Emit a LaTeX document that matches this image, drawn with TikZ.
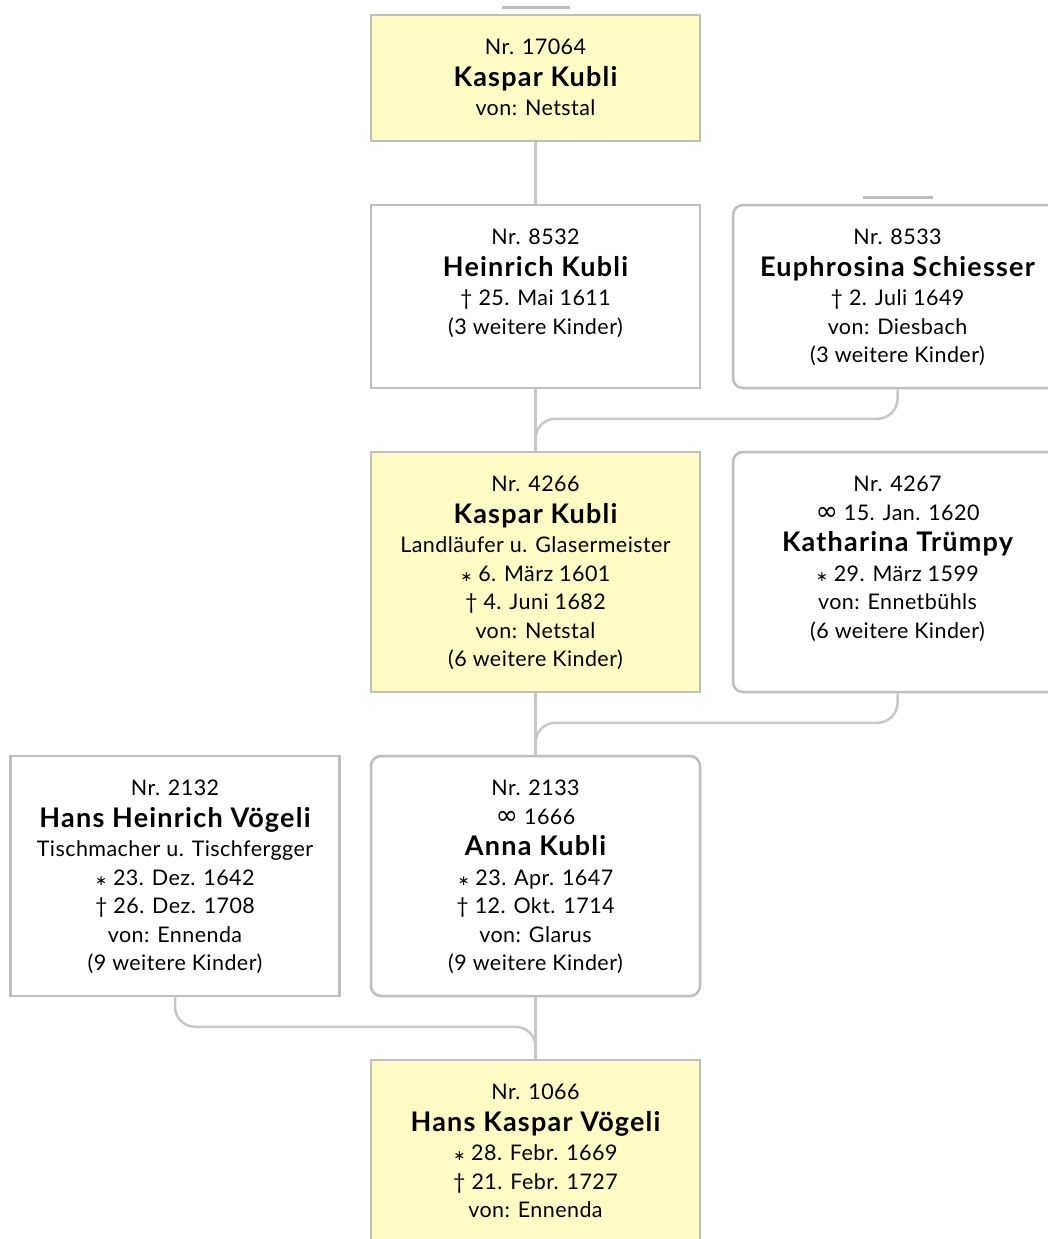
\documentclass[tikz,border=0pt]{standalone}
\usepackage{fontspec}
\setmainfont{Lato}[LetterSpace=2]
\newfontfamily\namefont{Lato}[LetterSpace=4.5]
\newfontfamily\symfont{DejaVu Sans}
\usetikzlibrary{calc}

\definecolor{boxyellow}{RGB}{255,251,196}
\definecolor{boxline}{RGB}{190,190,190}
\definecolor{linkline}{RGB}{200,200,200}

% genealogical signs and the name line
\newcommand{\born}{{\symfont\fontsize{14}{14}\selectfont ∗}}
\newcommand{\died}{†}
\newcommand{\married}{{\symfont\fontsize{27}{20}\selectfont ∞}}
\newcommand{\pname}[1]{{\namefont\fontsize{27}{28}\selectfont\bfseries #1}}

\tikzset{
  x=1pt, y=-1pt,
  man/.style={draw=boxline, line width=2.5pt, fill=white, inner sep=0pt,
              minimum width=329pt},
  woman/.style={man, rounded corners=10pt},
  proband/.style={man, fill=boxyellow},
  info/.style={anchor=north, align=center, inner sep=0pt,
               font=\fontsize{21.5}{28.5}\selectfont},
  conn/.style={draw=linkline, line width=2.5pt, rounded corners=20pt},
  stub/.style={draw=boxline, line width=3pt},
}

\begin{document}
\begin{tikzpicture}
\useasboundingbox (0,0) rectangle (1048,1239);
\clip (0,0) rectangle (1048,1239);

% ---- boxes ----
\node[proband, minimum height=126pt] (b17064) at (535.5,78) {};
\node[man,     minimum height=183pt] (b8532)  at (535.5,296.5) {};
\node[woman,   minimum height=183pt] (b8533)  at (897.5,296.5) {};
\node[proband, minimum height=240pt] (b4266)  at (535.5,572) {};
\node[woman,   minimum height=240pt] (b4267)  at (897.5,572) {};
\node[man,     minimum height=240pt] (b2132)  at (175,876) {};
\node[woman,   minimum height=240pt] (b2133)  at (535.5,876) {};
\node[proband, minimum height=240pt] (b1066)  at (535.5,1180) {};

% ---- texts ----
\node[info] (t17064) at ($(b17064.north)+(0,25)$)
  {Nr. 17064\\[3pt] \pname{Kaspar Kubli}\\[1pt] von: Netstal};
\node[info] (t8532) at ($(b8532.north)+(0,25)$)
  {Nr. 8532\\[3pt] \pname{Heinrich Kubli}\\[1pt] \died\ 25. Mai 1611\\ (3 weitere Kinder)};
\node[info] (t8533) at ($(b8533.north)+(0,25)$)
  {Nr. 8533\\[3pt] \pname{Euphrosina Schiesser}\\[1pt] \died\ 2. Juli 1649\\ von: Diesbach\\ (3 weitere Kinder)};
\node[info] (t4266) at ($(b4266.north)+(0,25)$)
  {Nr. 4266\\[3pt] \pname{Kaspar Kubli}\\[1pt] Landläufer u. Glasermeister\\ \born\ 6. März 1601\\ \died\ 4. Juni 1682\\ von: Netstal\\ (6 weitere Kinder)};
\node[info] (t4267) at ($(b4267.north)+(0,25)$)
  {Nr. 4267\\ \married\ 15. Jan. 1620\\[3pt] \pname{Katharina Trümpy}\\[1pt] \born\ 29. März 1599\\ von: Ennetbühls\\ (6 weitere Kinder)};
\node[info] (t2132) at ($(b2132.north)+(0,25)$)
  {Nr. 2132\\[3pt] \pname{Hans Heinrich Vögeli}\\[1pt] Tischmacher u. Tischfergger\\ \born\ 23. Dez. 1642\\ \died\ 26. Dez. 1708\\ von: Ennenda\\ (9 weitere Kinder)};
\node[info] (t2133) at ($(b2133.north)+(0,25)$)
  {Nr. 2133\\ \married\ 1666\\[3pt] \pname{Anna Kubli}\\[1pt] \born\ 23. Apr. 1647\\ \died\ 12. Okt. 1714\\ von: Glarus\\ (9 weitere Kinder)};
\node[info] (t1066) at ($(b1066.north)+(0,25)$)
  {Nr. 1066\\[3pt] \pname{Hans Kaspar Vögeli}\\[1pt] \born\ 28. Febr. 1669\\ \died\ 21. Febr. 1727\\ von: Ennenda};

% ---- short marks above the outermost ancestors ----
\coordinate (up17064) at ($(b17064.north)+(0,-6)$);
\coordinate (up8533)  at ($(b8533.north)+(0,-6)$);
\draw[stub] ($(up17064)+(-34,0)$) -- ($(up17064)+(34,0)$);
\draw[stub] ($(up8533)+(-35,0)$) -- ($(up8533)+(35,0)$);

% ---- descent lines ----
\draw[conn] (b17064.south) -- (b8532.north);
\draw[conn] (b8532.south) -- (b4266.north);
\draw[conn] (b8533.south) |- ($(b4266.north)+(0,-32)$) -- (b4266.north);
\draw[conn] (b4266.south) -- (b2133.north);
\draw[conn] (b4267.south) |- ($(b2133.north)+(0,-32)$) -- (b2133.north);
\draw[conn] (b2133.south) -- (b1066.north);
\draw[conn] (b2132.south) |- ($(b1066.north)+(0,-32)$) -- (b1066.north);
\end{tikzpicture}
\end{document}
